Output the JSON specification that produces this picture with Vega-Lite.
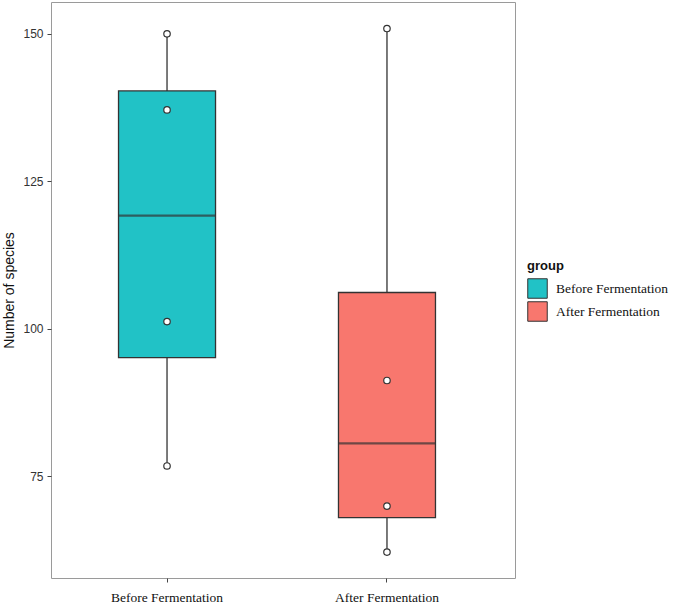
{
  "$schema": "https://vega.github.io/schema/vega-lite/v6.json",
  "autosize": "none",
  "width": 464,
  "height": 576,
  "padding": {"left": 51, "top": 2, "right": 160, "bottom": 28},
  "background": "white",
  "config": {
    "view": {"stroke": "#9a9a9a", "strokeWidth": 1},
    "axis": {"grid": false, "domain": false, "tickColor": "#444", "tickSize": 4, "tickWidth": 1}
  },
  "data": {
    "values": [
      {"group": "Before Fermentation", "species": 150.0},
      {"group": "Before Fermentation", "species": 137.1},
      {"group": "Before Fermentation", "species": 101.2},
      {"group": "Before Fermentation", "species": 76.7},
      {"group": "After Fermentation", "species": 150.9},
      {"group": "After Fermentation", "species": 91.2},
      {"group": "After Fermentation", "species": 69.9},
      {"group": "After Fermentation", "species": 62.1}
    ]
  },
  "encoding": {
    "x": {
      "field": "group", "type": "nominal",
      "sort": ["Before Fermentation", "After Fermentation"],
      "scale": {"range": [0, 452], "paddingInner": 0.559, "paddingOuter": 0.307},
      "axis": {"title": null, "labelAngle": 0, "labelFont": "Liberation Serif", "labelFontSize": 13.5, "labelColor": "#111", "labelPadding": 8}
    },
    "y": {
      "field": "species", "type": "quantitative",
      "scale": {"domain": [57.7, 155.4], "nice": false, "zero": false},
      "axis": {"title": "Number of species", "values": [75, 100, 125, 150], "titleFont": "Liberation Sans", "titleFontSize": 14, "titleFontWeight": "normal", "titleColor": "#111", "titlePadding": 6, "labelFont": "Liberation Sans", "labelFontSize": 12, "labelColor": "#333", "labelPadding": 4}
    }
  },
  "layer": [
    {
      "mark": {"type": "boxplot", "extent": "min-max", "size": 97,
        "box": {"stroke": "#333", "strokeWidth": 1.3, "opacity": 1},
        "median": {"color": "#333", "thickness": 2.2},
        "rule": {"color": "#333", "strokeWidth": 1.3},
        "ticks": false},
      "encoding": {
        "color": {
          "field": "group", "type": "nominal",
          "scale": {"domain": ["Before Fermentation", "After Fermentation"], "range": ["#21C2C6", "#F8776E"]},
          "legend": {"title": "group", "orient": "none", "legendX": 476, "legendY": 258,
            "titleFont": "Liberation Sans", "titleFontSize": 13, "titleFontWeight": "bold", "titleColor": "#111",
            "labelFont": "Liberation Serif", "labelFontSize": 13.5, "labelColor": "#111", "labelOffset": 8,
            "symbolType": "square", "symbolSize": 380, "symbolOpacity": 1, "symbolStrokeColor": "#333", "symbolStrokeWidth": 1, "rowPadding": -4}
        }
      }
    },
    {
      "mark": {"type": "point", "shape": "circle", "filled": true, "fill": "white", "stroke": "#333", "strokeWidth": 1.2, "size": 42, "opacity": 1}
    }
  ]
}
